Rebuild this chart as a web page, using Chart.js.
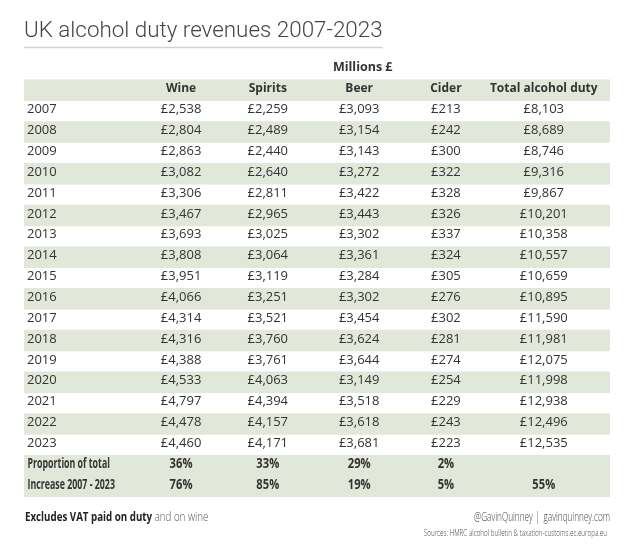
<!DOCTYPE html>
<html>
<head>
<meta charset="utf-8">
<title>UK alcohol duty revenues 2007-2023</title>
<script src="https://cdn.jsdelivr.net/npm/chart.js@4.4.1/dist/chart.umd.min.js"></script>
<style>
  html, body { margin: 0; padding: 0; background: #fff; }
  #wrap { width: 630px; height: 551px; position: relative; }
</style>
</head>
<body>
<div id="wrap"><canvas id="dutyTable"></canvas></div>
<script>
// values in millions of pounds
const years = ['2007', '2008', '2009', '2010', '2011', '2012', '2013', '2014', '2015',
  '2016', '2017', '2018', '2019', '2020', '2021', '2022', '2023'];
const columns = ['Wine', 'Spirits', 'Beer', 'Cider', 'Total alcohol duty'];
const wine = [2538, 2804, 2863, 3082, 3306, 3467, 3693, 3808, 3951, 4066, 4314, 4316, 4388, 4533, 4797, 4478, 4460];
const spirits = [2259, 2489, 2440, 2640, 2811, 2965, 3025, 3064, 3119, 3251, 3521, 3760, 3761, 4063, 4394, 4157, 4171];
const beer = [3093, 3154, 3143, 3272, 3422, 3443, 3302, 3361, 3284, 3302, 3454, 3624, 3644, 3149, 3518, 3618, 3681];
const cider = [213, 242, 300, 322, 328, 326, 337, 324, 305, 276, 302, 281, 274, 254, 229, 243, 223];
const total = [8103, 8689, 8746, 9316, 9867, 10201, 10358, 10557, 10659, 10895, 11590, 11981, 12075, 11998, 12938, 12496, 12535];
const proportion = [36, 33, 29, 2, null];
const increase = [76, 85, 19, 5, 55];
const summaryLabels = ['Proportion of total', 'Increase 2007 - 2023'];

const series = [wine, spirits, beer, cider, total];

// rows: units line, column header, the years, then the two summary rows
const rowLabels = ['units', 'header'].concat(years, summaryLabels);
const firstYearRow = 2;
const propRow = firstYearRow + years.length;
const incRow = propRow + 1;

// layout (x scale runs 0..100 across the table width)
const colPos = [26.8, 41.6, 57.2, 72.0, 88.7];
const unitsPos = 57.8;

const GREEN = '#e2e8d9';
const TEXT = '#333333';
const BODY = '"Open Sans", "Noto Sans", sans-serif';
const NUDGE = -1.5;

const bandData = rowLabels.map((r, i) => {
  const striped = i === 1 || i >= propRow || (i >= firstYearRow && (i - firstYearRow) % 2 === 1);
  return striped ? [0, 100] : null;
});

const fmt = (n) => '£' + n.toLocaleString('en-GB');

// no condensed face installed, so squeeze the regular one horizontally
function narrowText(ctx, text, x, y, align, squeeze) {
  ctx.save();
  ctx.translate(x, y);
  ctx.scale(squeeze, 1);
  ctx.textAlign = align;
  ctx.fillText(text, 0, 0);
  const w = ctx.measureText(text).width * squeeze;
  ctx.restore();
  return w;
}

const tableText = {
  id: 'tableText',
  afterDatasetsDraw(chart) {
    const { ctx, chartArea, scales } = chart;
    const x = scales.x, y = scales.y;
    const left = chartArea.left;
    ctx.save();
    ctx.fillStyle = TEXT;
    ctx.textBaseline = 'middle';

    // units line and header
    ctx.textAlign = 'center';
    ctx.font = 'bold 12.5px ' + BODY;
    ctx.fillText('Millions £', x.getPixelForValue(unitsPos), y.getPixelForValue(0) + NUDGE);
    ctx.font = 'bold 12px ' + BODY;
    columns.forEach((c, j) => {
      ctx.fillText(c, x.getPixelForValue(colPos[j]), y.getPixelForValue(1) + NUDGE);
    });

    // year rows
    ctx.font = '13px ' + BODY;
    years.forEach((yr, i) => {
      const py = y.getPixelForValue(firstYearRow + i) + NUDGE;
      ctx.textAlign = 'left';
      ctx.fillText(yr, left + 3, py);
      ctx.textAlign = 'center';
      series.forEach((s, j) => {
        ctx.fillText(fmt(s[i]), x.getPixelForValue(colPos[j]), py);
      });
    });

    // summary rows
    [[propRow, proportion], [incRow, increase]].forEach(([row, vals], k) => {
      const py = y.getPixelForValue(row) + NUDGE;
      ctx.font = 'bold 14px ' + BODY;
      narrowText(ctx, summaryLabels[k], left + 3.5, py, 'left', 0.63);
      vals.forEach((v, j) => {
        if (v !== null) narrowText(ctx, v + '%', x.getPixelForValue(colPos[j]), py, 'center', 0.8);
      });
    });

    // title and rule
    ctx.fillStyle = '#444444';
    ctx.textAlign = 'left';
    ctx.textBaseline = 'alphabetic';
    ctx.font = '300 22.4px Roboto, "Open Sans", sans-serif';
    const title = 'UK alcohol duty revenues 2007-2023';
    ctx.fillText(title, left, 37);
    const tw = ctx.measureText(title).width;
    ctx.strokeStyle = '#d2d2d2';
    ctx.lineWidth = 1.5;
    ctx.beginPath();
    ctx.moveTo(left, 47.5);
    ctx.lineTo(left + tw, 47.5);
    ctx.stroke();

    // footer
    const fy = chartArea.bottom + 20;
    ctx.textBaseline = 'middle';
    ctx.fillStyle = '#222222';
    ctx.font = 'bold 13px ' + BODY;
    const nw = narrowText(ctx, 'Excludes VAT paid on duty', left + 1, fy, 'left', 0.75);
    ctx.fillStyle = '#555555';
    ctx.font = '300 13px ' + BODY;
    narrowText(ctx, ' and on wine', left + 1 + nw, fy, 'left', 0.75);

    ctx.fillStyle = '#444444';
    ctx.font = '300 13px ' + BODY;
    narrowText(ctx, '@GavinQuinney |  gavinquinney.com', chartArea.right, fy, 'right', 0.63);
    ctx.font = '300 9px ' + BODY;
    narrowText(ctx, 'Sources: HMRC alcohol bulletin & taxation-customs.ec.europa.eu', chartArea.right - 3, fy + 16, 'right', 0.7);
    ctx.restore();
  }
};

new Chart(document.getElementById('dutyTable'), {
  type: 'bar',
  data: {
    labels: rowLabels,
    datasets: [{
      label: 'bands',
      data: bandData,
      backgroundColor: GREEN,
      borderWidth: 0,
      barPercentage: 1,
      categoryPercentage: 1
    }]
  },
  options: {
    indexAxis: 'y',
    responsive: true,
    maintainAspectRatio: false,
    animation: false,
    layout: { padding: { top: 59, left: 24, right: 20, bottom: 54 } },
    scales: {
      x: { type: 'linear', min: 0, max: 100, display: false },
      y: { type: 'category', display: false, offset: true }
    },
    plugins: {
      legend: { display: false },
      tooltip: { enabled: false }
    }
  },
  plugins: [tableText]
});
</script>
</body>
</html>
